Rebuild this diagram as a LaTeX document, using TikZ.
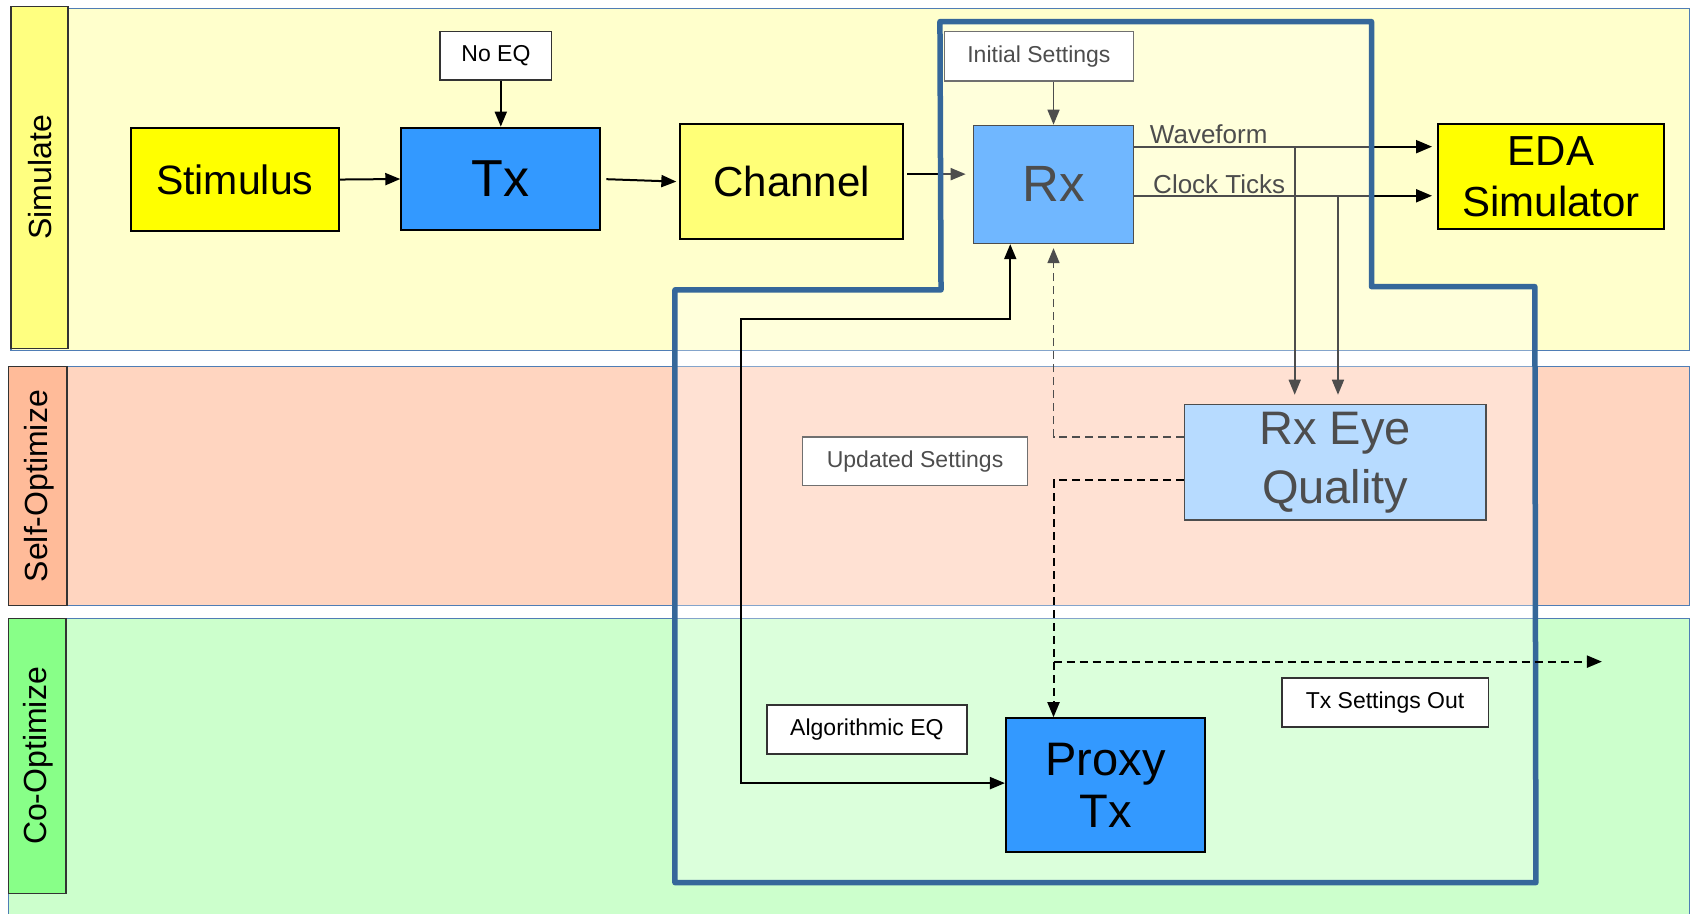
\documentclass[tikz,border=0pt]{standalone}
\usepackage{fontspec}
\setmainfont{Liberation Sans}
\usetikzlibrary{arrows.meta}
\definecolor{laneY}{HTML}{FFFFCC}
\definecolor{laneS}{HTML}{FFD5C0}
\definecolor{laneG}{HTML}{CCFFCC}
\definecolor{stripY}{HTML}{FFFF80}
\definecolor{stripS}{HTML}{FFBB99}
\definecolor{stripG}{HTML}{88FF88}
\definecolor{laneblue}{HTML}{4F7DB5}
\definecolor{ovblue}{HTML}{35679A}
\definecolor{txblue}{HTML}{3399FF}
\definecolor{eyeblue}{HTML}{99CCFF}
\definecolor{chanY}{HTML}{FFFF77}
\definecolor{yel}{HTML}{FFFF00}
\def\pxu{1.0816pt}
\tikzset{
  sz/.style 2 args={minimum width=#1*\pxu, minimum height=#2*\pxu},
  box/.style={draw=black, line width=2pt, inner sep=0pt, align=center, text=black},
  lbl/.style={draw=black!80, fill=white, line width=1.5pt, inner sep=0pt, text=black, font=\fontsize{23}{27}\selectfont},
  lanelbl/.style={rotate=90, inner sep=0pt, text=black, font=\fontsize{32}{36}\selectfont},
  lane/.style={draw=laneblue, line width=1.5pt},
  strip/.style={draw=black!80, line width=1.5pt},
  conn/.style={draw=black, line width=2pt, -{Triangle[length=15pt,width=12pt]}},
  bigtip/.style={-{Triangle[length=16pt,width=13pt]}},
  dconn/.style={conn, dash pattern=on 8pt off 5pt},
  captxt/.style={inner sep=0pt, text=black, font=\fontsize{26}{30}\selectfont}
}
\begin{document}
\begin{tikzpicture}[x=1.0816pt,y=-1.0816pt]
\useasboundingbox (0,0) rectangle (1568,845);
\fill[white] (0,0) rectangle (1568,845);
% lanes
\draw[lane, fill=laneY] (10,8) rectangle (1562,324);
\draw[lane, fill=laneS] (8,339) rectangle (1562,560);
\draw[lane, fill=laneG] (8,572) rectangle (1562,870);
\draw[strip, fill=stripY] (10,6) rectangle (63,322);
\draw[strip, fill=stripS] (8,339) rectangle (62,560);
\draw[strip, fill=stripG] (8,572) rectangle (61,826);
\node[lanelbl] (simlbl) at (37,164) {Simulate};
\node[lanelbl] (selflbl) at (36,449.5) {Self-Optimize};
\node[lanelbl] (colbl) at (35,699) {Co-Optimize};
% top-row blocks
\node[box, fill=yel, sz={192}{96}, font=\fontsize{41}{48}\selectfont] (stim) at (217,166) {\raisebox{-3pt}{Stimulus}};
\node[box, fill=txblue, sz={184}{95}, font=\fontsize{52}{60}\selectfont] (tx) at (463,165.5) {\raisebox{-2pt}{Tx}};
\node[lbl, sz={103}{45}] (noeq) at (458.5,51.5) {\raisebox{-2pt}{No EQ}};
\node[box, fill=chanY, sz={206}{106}, font=\fontsize{42}{50}\selectfont] (chan) at (732,168) {Channel};
\node[box, fill=yel, sz={209}{97}, font=\fontsize{42}{52}\selectfont] (eda) at (1434,163) {EDA\\[-1pt]Simulator};
\draw[conn] (stim.east) -- (tx.west);
\draw[conn, shorten <=5pt, shorten >=3pt] (tx.east) -- (chan.west);
\draw[conn] (tx.north |- noeq.south) -- (tx.north);
% items under the overlay
\node[box, line width=1.6pt, fill=txblue, sz={148}{109}, font=\fontsize{51}{60}\selectfont] (rx) at (974,170.5) {\raisebox{-4pt}{Rx}};
\node[lbl, sz={175}{46}] (init) at (960.5,52) {\raisebox{-2pt}{Initial Settings}};
\node[box, line width=1.6pt, fill=eyeblue, sz={279}{107}, font=\fontsize{47}{57}\selectfont] (eye) at (1234.5,427.5) {Rx Eye\\[2pt]Quality};
\node[lbl, sz={208}{45}] (upd) at (846,426.5) {\raisebox{-2pt}{Updated Settings}};
\coordinate (wv) at (1197,135.6);
\coordinate (ck) at (1237,181);
\coordinate (cr) at (862,161);
\coordinate (d1) at (974,404);
\draw[conn, bigtip, shorten >=5pt] (wv -| rx.east) -- (wv -| eda.west);
\draw[conn, bigtip, shorten >=5pt] (ck -| rx.east) -- (ck -| eda.west);
\draw[conn, line width=1.6pt, shorten >=9pt] (wv) -- (wv |- eye.north);
\draw[conn, line width=1.6pt, shorten >=9pt] (ck) -- (ck |- eye.north);
\node[captxt, anchor=base west] (wvl) at (1063,133) {Waveform};
\node[captxt, anchor=base west] (ckl) at (1066,179) {Clock Ticks};
\draw[conn, line width=1.6pt] (rx.north |- init.south) -- (rx.north);
\draw[conn, shorten <=3pt, shorten >=7pt] (cr -| chan.east) -- (cr -| rx.west);
\draw[dconn, line width=1.6pt, shorten >=4pt] (d1 -| eye.west) -- (d1) -- (rx.south);
% overlay region
\draw[draw=ovblue, line width=5.5pt, fill=white, fill opacity=0.3, line join=round]
  (869,20) -- (1268,20) -- (1268,265) -- (1419,265) -- (1420,816) -- (624,816) -- (624,268) -- (870,268) -- cycle;
% items on top
\node[box, fill=txblue, sz={184}{124}, font=\fontsize{47}{56}\selectfont] (proxy) at (1022,726) {\raisebox{-2pt}{Proxy}\\[-2pt]Tx};
\node[lbl, sz={185}{45}] (alg) at (801.5,674.5) {\raisebox{-2pt}{Algorithmic EQ}};
\node[lbl, sz={191}{45}] (tso) at (1280.5,649.5) {\raisebox{-2pt}{Tx Settings Out}};
\coordinate (pb) at (934,295);
\coordinate (p1) at (685,295);
\coordinate (p2) at (685,724);
\draw[conn, {Triangle[length=15pt,width=12pt]}-{Triangle[length=15pt,width=12pt]}] (pb |- rx.south) -- (pb) -- (p1) -- (p2) -- (p2 -| proxy.west);
\coordinate (d2) at (974,444);
\coordinate (d3) at (974,611.7);
\coordinate (tsend) at (1481,611.7);
\draw[dconn] (d2 -| eye.west) -- (d2) -- (d2 |- proxy.north);
\draw[dconn] (d3) -- (tsend);
\end{tikzpicture}
\end{document}
